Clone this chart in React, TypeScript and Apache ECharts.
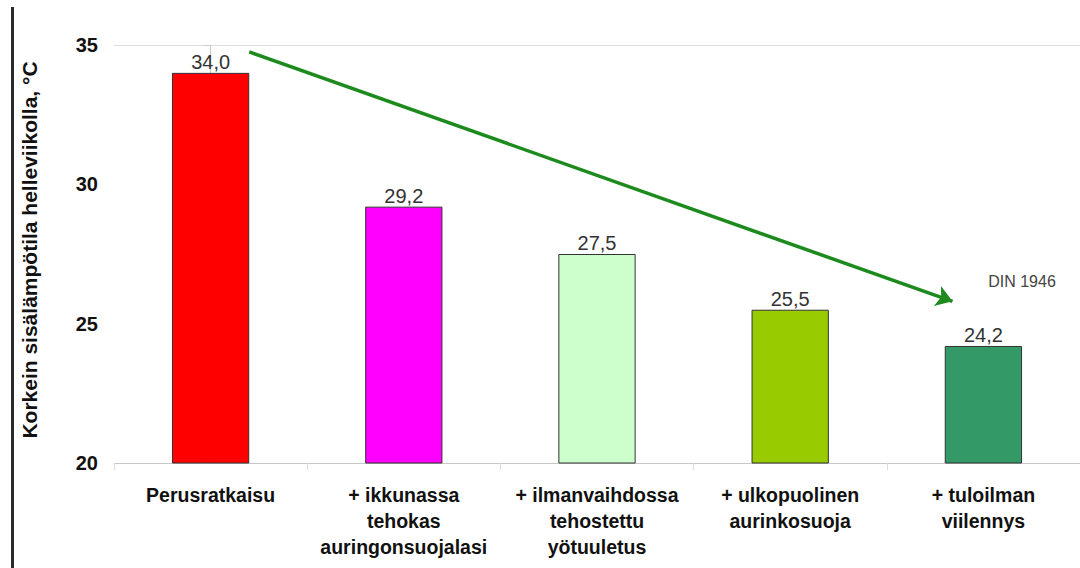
import React, { useEffect, useRef } from "react";
import * as echarts from "echarts";

const categories = [
  "Perusratkaisu",
  "+ ikkunassa\ntehokas\nauringonsuojalasi",
  "+ ilmanvaihdossa\ntehostettu\nyötuuletus",
  "+ ulkopuolinen\naurinkosuoja",
  "+ tuloilman\nviilennys",
];
const values = [34.0, 29.2, 27.5, 25.5, 24.2];
const barColors = ["#ff0000", "#ff00ff", "#ccffcc", "#99cc00", "#339966"];
const yTicks = [20, 25, 30, 35];
const arrowStart = [0.2, 34.75];
const arrowEnd = [3.84, 25.8];
const annotation = "DIN 1946";
const yName = "Korkein sisälämpötila helleviikolla, °C";

export default function App() {
  const ref = useRef<HTMLDivElement>(null);
  useEffect(() => {
    if (!ref.current) return;
    const chart = echarts.init(ref.current, null, { renderer: "svg" });
    const font = "'Liberation Sans', Arial, sans-serif";
    chart.setOption({
      animation: false,
      backgroundColor: "#ffffff",
      textStyle: { fontFamily: font },
      grid: { left: 114, top: 45, width: 975, bottom: 105, containLabel: false },
      xAxis: [
        {
          type: "category",
          data: categories,
          boundaryGap: true,
          axisLine: { show: true, lineStyle: { color: "#c8c8c8", width: 1 } },
          axisTick: { show: true, length: 7, lineStyle: { color: "#dddddd" } },
          axisLabel: {
            interval: 0,
            margin: 19,
            color: "#111",
            fontWeight: "bold",
            fontSize: 19.5,
            lineHeight: 26,
            fontFamily: font,
          },
        },
        {
          type: "value",
          position: "top",
          min: -0.5,
          max: 4.5,
          axisLine: { show: true, lineStyle: { color: "#dddddd", width: 1 } },
          axisTick: { show: false },
          axisLabel: { show: false },
          splitLine: { show: false },
        },
      ],
      yAxis: {
        type: "value",
        min: yTicks[0],
        max: yTicks[yTicks.length - 1],
        interval: 5,
        axisLine: { show: true, lineStyle: { color: "#c8c8c8", width: 1 } },
        axisTick: { show: true, length: 7, lineStyle: { color: "#cccccc" } },
        axisLabel: {
          margin: 16,
          color: "#111",
          fontWeight: "bold",
          fontSize: 20,
          fontFamily: font,
        },
        splitLine: { show: false },
      },
      series: [
        {
          type: "bar",
          data: values.map((v, i) => ({
            value: v,
            itemStyle: { color: barColors[i] },
          })),
          barWidth: "40%",
          itemStyle: { borderColor: "#333333", borderWidth: 1 },
          label: {
            show: true,
            position: "top",
            distance: 1,
            color: "#333",
            fontSize: 20,
            fontFamily: font,
            formatter: (p: any) => p.value.toFixed(1).replace(".", ","),
          },
        },
        {
          type: "lines",
          coordinateSystem: "cartesian2d",
          xAxisIndex: 1,
          yAxisIndex: 0,
          symbol: ["none", "arrow"],
          symbolSize: [13, 16],
          lineStyle: { color: "#1c8a1c", width: 3.5, opacity: 1, curveness: 0 },
          data: [{ coords: [arrowStart, arrowEnd] }],
        },
      ],
      graphic: [
        {
          type: "rect",
          shape: { x: 11, y: 7, width: 3, height: 561 },
          style: { fill: "#2a2a2a" },
        },
        {
          type: "text",
          x: 29.5,
          y: 250,
          rotation: Math.PI / 2,
          style: {
            text: yName,
            fontSize: 21,
            fontWeight: "bold",
            fontFamily: font,
            fill: "#111",
            align: "center",
            verticalAlign: "middle",
          },
        },
        {
          type: "text",
          x: 1022,
          y: 281,
          style: {
            text: annotation,
            fontSize: 16,
            fontFamily: font,
            fill: "#444",
            align: "center",
            verticalAlign: "middle",
          },
        },
      ],
    });
    return () => chart.dispose();
  }, []);
  return (
    <div
      ref={ref}
      style={{ position: "absolute", left: 0, top: 0, width: 1080, height: 568, background: "#fff" }}
    />
  );
}
